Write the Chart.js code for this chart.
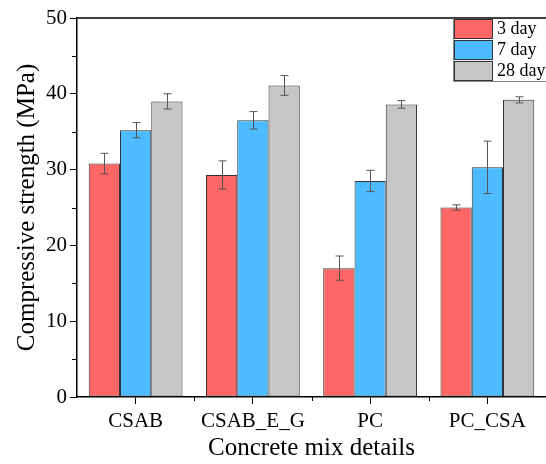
<!DOCTYPE html>
<html>
<head>
<meta charset="utf-8">
<script src="https://cdn.jsdelivr.net/npm/chart.js@4/dist/chart.umd.min.js"></script>
<style>
  html, body { margin: 0; padding: 0; background: #fff; }
  #wrap { width: 546px; height: 464px; }
</style>
</head>
<body>
<div id="wrap"><canvas id="strength"></canvas></div>
<script>
var mixes = ['CSAB', 'CSAB_E_G', 'PC', 'PC_CSA'];
var day3 = [30.8, 29.3, 17.0, 25.0];
var day7 = [35.2, 36.5, 28.5, 30.3];
var day28 = [39.0, 41.1, 38.6, 39.2];
var err3 = [1.35, 1.85, 1.6, 0.35];
var err7 = [1.0, 1.15, 1.4, 3.45];
var err28 = [1.0, 1.3, 0.5, 0.4];
var yTicks = [0, 10, 20, 30, 40, 50];

var serif = "'Liberation Serif', 'DejaVu Serif', serif";

var makeSet = function (label, data, err, color) {
    return {
        label: label,
        data: data,
        errors: err,
        backgroundColor: color,
        borderColor: '#333333',
        borderWidth: 1,
        borderSkipped: false,
        categoryPercentage: 0.8,
        barPercentage: 1.0
    };
};

// error bars, minor ticks, frame and legend box
var extras = {
    id: 'extras',
    afterDatasetsDraw: function (chart) {
        var ctx = chart.ctx;
        var y = chart.scales.y;
        var x = chart.scales.x;
        var area = chart.chartArea;
        ctx.save();
        ctx.strokeStyle = '#555555';
        ctx.lineWidth = 1;
        chart.data.datasets.forEach(function (ds, di) {
            var meta = chart.getDatasetMeta(di);
            meta.data.forEach(function (bar, i) {
                var v = ds.data[i], e = ds.errors[i];
                var px = Math.round(bar.x) + 0.5;
                var hi = y.getPixelForValue(v + e);
                var lo = y.getPixelForValue(v - e);
                ctx.beginPath();
                ctx.moveTo(px, hi); ctx.lineTo(px, lo);
                ctx.moveTo(px - 4, hi); ctx.lineTo(px + 4, hi);
                ctx.moveTo(px - 4, lo); ctx.lineTo(px + 4, lo);
                ctx.stroke();
            });
        });
        ctx.restore();

        ctx.save();
        ctx.strokeStyle = '#000';
        ctx.lineWidth = 1;
        ctx.beginPath();
        // minor y ticks
        for (var m = 5; m < 50; m += 10) {
            var py = Math.round(y.getPixelForValue(m)) + 0.5;
            ctx.moveTo(area.left - 5, py); ctx.lineTo(area.left, py);
        }
        // minor x ticks between mixes
        for (var k = 1; k < mixes.length; k++) {
            var bx = Math.round((x.getPixelForValue(k - 1) + x.getPixelForValue(k)) / 2) + 0.5;
            ctx.moveTo(bx, area.bottom); ctx.lineTo(bx, area.bottom + 4);
        }
        ctx.stroke();
        ctx.lineWidth = 1.5;
        ctx.beginPath();
        ctx.moveTo(area.left, area.top); ctx.lineTo(area.right, area.top);
        ctx.stroke();
        ctx.restore();

        // legend in the top right corner
        ctx.save();
        var lx = 453, ly = area.top, rowH = 21;
        ctx.fillStyle = '#fff';
        ctx.fillRect(lx, ly + 1, area.right - lx, rowH * 3);
        ctx.strokeStyle = '#888';
        ctx.lineWidth = 1;
        ctx.beginPath();
        ctx.moveTo(lx + 0.5, ly); ctx.lineTo(lx + 0.5, ly + rowH * 3 + 0.5);
        ctx.lineTo(area.right, ly + rowH * 3 + 0.5);
        ctx.stroke();
        ctx.font = '18px ' + serif;
        ctx.textBaseline = 'middle';
        chart.data.datasets.forEach(function (ds, di) {
            var ry = ly + di * rowH + 1;
            ctx.fillStyle = ds.backgroundColor;
            ctx.fillRect(lx + 1, ry, 38, 19);
            ctx.strokeStyle = '#333';
            ctx.strokeRect(lx + 1.5, ry + 0.5, 38, 19);
            ctx.fillStyle = '#000';
            ctx.fillText(ds.label, lx + 44, ry + 10);
        });
        ctx.restore();
    }
};

new Chart(document.getElementById('strength'), {
    type: 'bar',
    data: {
        labels: mixes,
        datasets: [
            makeSet('3 day', day3, err3, '#FF6666'),
            makeSet('7 day', day7, err7, '#4DBBFF'),
            makeSet('28 day', day28, err28, '#C6C6C6')
        ]
    },
    options: {
        responsive: true,
        maintainAspectRatio: false,
        animation: false,
        layout: { padding: { top: 18, right: 0, bottom: 0, left: 0 } },
        plugins: {
            legend: { display: false },
            tooltip: { enabled: false }
        },
        scales: {
            x: {
                afterFit: function (s) { s.height = 67; },
                grid: { display: true, drawOnChartArea: false, offset: false, tickLength: 7, color: '#000', tickColor: '#000' },
                border: { color: '#000', width: 1.5 },
                ticks: { color: '#000', padding: 5, font: { family: serif, size: 21 } },
                title: { display: true, text: 'Concrete mix details', color: '#000', padding: { top: 0, bottom: 1 }, font: { family: serif, size: 25 } }
            },
            y: {
                min: 0,
                max: 50,
                afterFit: function (s) { s.width = 77; },
                afterBuildTicks: function (s) { s.ticks = yTicks.map(function (v) { return { value: v }; }); },
                grid: { display: true, drawOnChartArea: false, tickLength: 7, color: '#000', tickColor: '#000' },
                border: { color: '#000', width: 1.5 },
                ticks: { color: '#000', padding: 3, font: { family: serif, size: 21 } },
                title: { display: true, text: 'Compressive strength (MPa)', color: '#000', padding: { top: 12, bottom: 0 }, font: { family: serif, size: 25 } }
            }
        }
    },
    plugins: [extras]
});
</script>
</body>
</html>
